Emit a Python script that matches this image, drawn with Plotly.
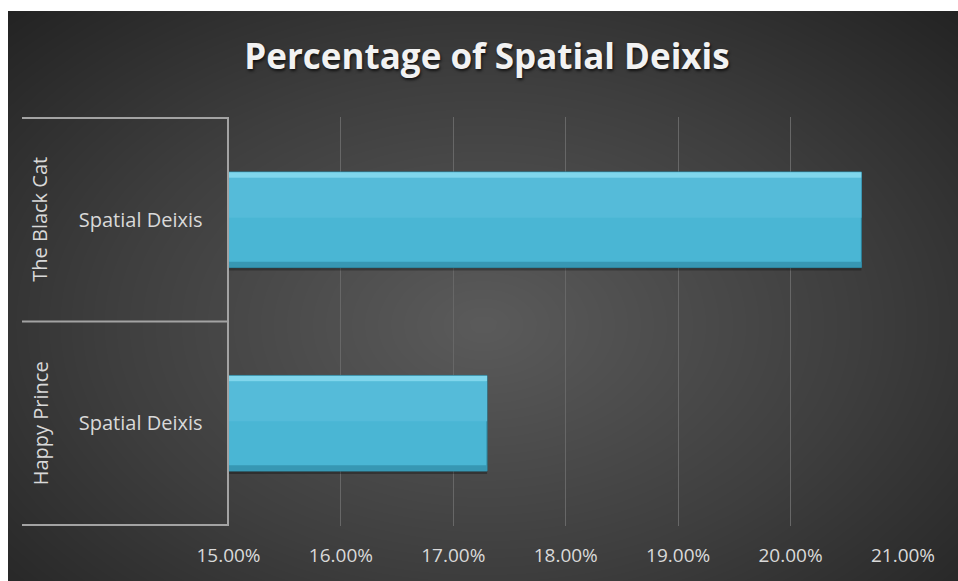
import numpy as np
import plotly.graph_objects as go

# Data
stories = ["The Black Cat", "Happy Prince"]
deixis_type = ["Spatial Deixis", "Spatial Deixis"]
percentages = [0.2063, 0.1730]
tick_values = [0.15, 0.16, 0.17, 0.18, 0.19, 0.20, 0.21]

W, H = 958, 581
ML, MT = 8, 11
PW, PH = W - ML, H - MT


def px_x(p):
    return (p - ML) / PW


def px_y(p):
    return 1 - (p - MT) / PH


fig = go.Figure()

# Radial dark-gray backdrop filling the chart area
n = 80
gx = np.linspace(0, 1, n)
gy = np.linspace(0, 1, n)
XX, YY = np.meshgrid(gx, gy)
rad = np.sqrt(((XX - 0.5) / 0.5) ** 2 + ((YY - 0.45) / 0.55) ** 2) / np.sqrt(2)
fig.add_trace(go.Heatmap(
    x=gx, y=gy, z=rad, zsmooth="best", showscale=False, hoverinfo="skip",
    colorscale=[[0, "#5a5a5a"], [0.55, "#3e3e3e"], [1, "#232323"]],
    xaxis="x", yaxis="y",
))

BW = 0.47
half = BW / 2

# soft shadow under each bar
fig.add_trace(go.Bar(
    x=percentages, y=stories, orientation="h", width=BW, offset=-half + 0.014,
    marker=dict(color="rgba(0,0,0,0.28)", line=dict(width=0)),
    xaxis="x2", yaxis="y2", hoverinfo="skip",
))
# bar body
fig.add_trace(go.Bar(
    x=percentages, y=stories, orientation="h", width=BW, offset=-half,
    marker=dict(color="#4ab6d4", line=dict(color="#2d8199", width=1)),
    xaxis="x2", yaxis="y2", hoverinfo="skip",
))
# lighter upper face
fig.add_trace(go.Bar(
    x=percentages, y=stories, orientation="h", width=BW * 0.42, offset=-half + 0.028,
    marker=dict(color="#55bbd9", line=dict(width=0)),
    xaxis="x2", yaxis="y2", hoverinfo="skip",
))
# top highlight bevel
fig.add_trace(go.Bar(
    x=percentages, y=stories, orientation="h", width=0.026, offset=-half + 0.002,
    marker=dict(color="#80d6ec", line=dict(width=0)),
    xaxis="x2", yaxis="y2", hoverinfo="skip",
))
# bottom shaded bevel
fig.add_trace(go.Bar(
    x=percentages, y=stories, orientation="h", width=0.026, offset=half - 0.028,
    marker=dict(color="#3797b3", line=dict(width=0)),
    xaxis="x2", yaxis="y2", hoverinfo="skip",
))

x0, x1 = px_x(228.5), px_x(903)
y0, y1 = px_y(526), px_y(117)

# Category frame lines in the label area
shapes = []
for b in [-0.5, 0.5, 1.5]:
    shapes.append(dict(
        type="line", xref="paper", yref="y2", x0=px_x(22), x1=x0, y0=b, y1=b,
        line=dict(color="#a3a3a3", width=2), layer="above",
    ))

annotations = []
for i, s in enumerate(stories):
    annotations.append(dict(
        text=s, xref="paper", yref="y2", x=px_x(40), y=i, showarrow=False,
        textangle=-90, font=dict(family="Open Sans", size=20, color="#d9d9d9"),
        xanchor="center", yanchor="middle",
    ))

fig.update_layout(
    width=W, height=H,
    margin=dict(l=ML, r=0, t=MT, b=0, autoexpand=False),
    paper_bgcolor="white",
    plot_bgcolor="rgba(0,0,0,0)",
    showlegend=False,
    barmode="overlay",
    title=dict(
        text="<b>Percentage of Spatial Deixis</b>",
        x=487 / W, y=1 - 57 / H, xref="container", yref="container",
        xanchor="center", yanchor="middle",
        font=dict(family="Open Sans", size=35, color="#f2f2f2",
                  shadow="1px 2px 3px rgba(0,0,0,0.7)"),
    ),
    xaxis=dict(domain=[0, 1], range=[0, 1], visible=False, fixedrange=True),
    yaxis=dict(domain=[0, 1], range=[0, 1], visible=False, fixedrange=True),
    xaxis2=dict(
        domain=[x0, x1], anchor="y2", range=[0.15, 0.21],
        tickvals=tick_values, tickformat=".2%",
        showgrid=True, gridcolor="#676767", gridwidth=1.2,
        showline=False, zeroline=False, ticks="", automargin=False,
        ticklabelstandoff=16,
        tickfont=dict(family="Open Sans", size=19, color="#d9d9d9"),
    ),
    yaxis2=dict(
        domain=[y0, y1], anchor="x2", type="category",
        categoryorder="array", categoryarray=stories, autorange="reversed",
        tickvals=stories, ticktext=deixis_type,
        showline=True, linecolor="#a3a3a3", linewidth=2,
        showgrid=False, zeroline=False, ticks="", automargin=False,
        ticklabelstandoff=20,
        tickfont=dict(family="Open Sans", size=20, color="#d9d9d9"),
    ),
    shapes=shapes,
    annotations=annotations,
)

fig.write_html("out.html")
